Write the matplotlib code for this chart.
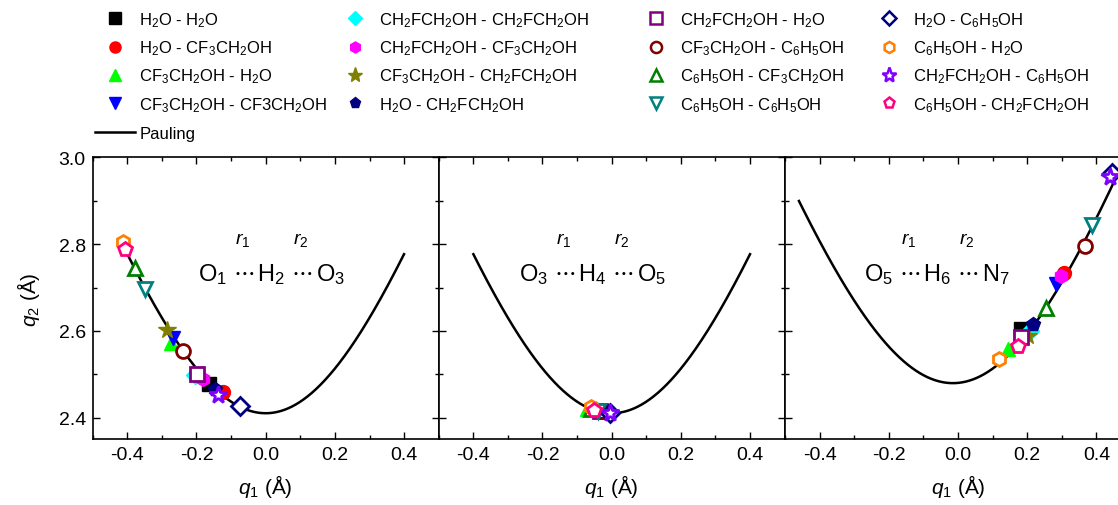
import matplotlib
matplotlib.use("Agg")
import matplotlib.pyplot as plt
from matplotlib.lines import Line2D
from matplotlib.ticker import MultipleLocator, FormatStrFormatter, FuncFormatter
import numpy as np

plt.rcParams['font.family'] = ['Liberation Sans', 'DejaVu Sans']
plt.rcParams['mathtext.fontset'] = 'custom'
plt.rcParams['mathtext.rm'] = 'Liberation Sans'
plt.rcParams['mathtext.it'] = 'Liberation Sans:italic'
plt.rcParams['mathtext.bf'] = 'Liberation Sans:bold'

# series (dimer pairs)
labels = [
    r'H$_2$O - H$_2$O',
    r'H$_2$O - CF$_3$CH$_2$OH',
    r'CF$_3$CH$_2$OH - H$_2$O',
    r'CF$_3$CH$_2$OH - CF3CH$_2$OH',
    r'CH$_2$FCH$_2$OH - CH$_2$FCH$_2$OH',
    r'CH$_2$FCH$_2$OH - CF$_3$CH$_2$OH',
    r'CF$_3$CH$_2$OH - CH$_2$FCH$_2$OH',
    r'H$_2$O - CH$_2$FCH$_2$OH',
    r'CH$_2$FCH$_2$OH - H$_2$O',
    r'CF$_3$CH$_2$OH - C$_6$H$_5$OH',
    r'C$_6$H$_5$OH - CF$_3$CH$_2$OH',
    r'C$_6$H$_5$OH - C$_6$H$_5$OH',
    r'H$_2$O - C$_6$H$_5$OH',
    r'C$_6$H$_5$OH - H$_2$O',
    r'CH$_2$FCH$_2$OH - C$_6$H$_5$OH',
    r'C$_6$H$_5$OH - CH$_2$FCH$_2$OH',
]
markers = ['s', 'o', '^', 'v', 'D', 'h', '*', 'p',
           's', 'o', '^', 'v', 'D', 'h', '*', 'p']
colors = ['#000000', '#FF0000', '#00FF00', '#0000FF', '#00FFFF', '#FF00FF', '#808000', '#000080',
          '#800080', '#800000', '#008000', '#008080', '#000080', '#FF8000', '#8000FF', '#FF0080']
filled = [True] * 8 + [False] * 8

# O1...H2...O3
q1_a = [-0.163, -0.122, -0.273, -0.267, -0.203, -0.180, -0.284, -0.146,
        -0.199, -0.239, -0.377, -0.348, -0.074, -0.413, -0.137, -0.406]
q2_a = [2.478, 2.459, 2.572, 2.583, 2.498, 2.489, 2.602, 2.466,
        2.501, 2.554, 2.744, 2.697, 2.428, 2.806, 2.452, 2.790]
# O3...H4...O5
q1_b = [-0.030, -0.020, -0.070, -0.020, -0.045, -0.045, -0.050, -0.010,
        -0.035, -0.030, -0.060, -0.040, -0.005, -0.060, -0.005, -0.050]
q2_b = [2.415, 2.413, 2.420, 2.413, 2.417, 2.417, 2.418, 2.412,
        2.416, 2.415, 2.420, 2.416, 2.412, 2.425, 2.412, 2.418]
# O5...H6...N7
q1_c = [0.183, 0.306, 0.145, 0.282, 0.207, 0.299, 0.202, 0.217,
        0.183, 0.366, 0.253, 0.386, 0.445, 0.119, 0.439, 0.173]
q2_c = [2.604, 2.733, 2.558, 2.708, 2.600, 2.727, 2.589, 2.616,
        2.585, 2.795, 2.654, 2.844, 2.964, 2.535, 2.954, 2.566]

# Pauling bond-order parameters (r0, b) in Angstrom
OH_r0, OH_b = 0.948, 0.371
NH_r0, NH_b = 0.990, 0.412


def pauling(r0a, ba, r0b, bb, lo, hi):
    p = np.linspace(1e-4, 1 - 1e-4, 4000)
    r1 = r0a - ba * np.log(p)
    r2 = r0b - bb * np.log(1 - p)
    q1 = 0.5 * (r1 - r2)
    q2 = r1 + r2
    m = (q1 >= lo) & (q1 <= hi)
    return q1[m], q2[m]


W, H = 1118, 506
fig = plt.figure(figsize=(W / 100, H / 100), dpi=100)

lefts = [92.7, 438.7, 785.0]
axw, bot, axh = 346.0, 440.4, 282.0
panels = [
    (q1_a, q2_a, pauling(OH_r0, OH_b, OH_r0, OH_b, -0.41, 0.40),
     ['O$_1$', 'H$_2$', 'O$_3$'], 198),
    (q1_b, q2_b, pauling(OH_r0, OH_b, OH_r0, OH_b, -0.40, 0.40),
     ['O$_3$', 'H$_4$', 'O$_5$'], 519),
    (q1_c, q2_c, pauling(OH_r0, OH_b, NH_r0, NH_b, -0.46, 0.55),
     ['O$_5$', 'H$_6$', 'N$_7$'], 864),
]

axes = []
for i, (xs, ys, curve, atoms, tx) in enumerate(panels):
    ax = fig.add_axes([lefts[i] / W, (H - bot) / H, axw / W, axh / H])
    axes.append(ax)
    ax.plot(curve[0], curve[1], color='black', lw=1.8, zorder=1)
    for j in range(len(labels)):
        ms = 13 if markers[j] == '*' else 10
        if markers[j] == 'D':
            ms = 9
        if filled[j]:
            ax.plot(xs[j], ys[j], ls='none', marker=markers[j], ms=ms,
                    color=colors[j], mec=colors[j], zorder=2 + j)
        else:
            ax.plot(xs[j], ys[j], ls='none', marker=markers[j], ms=ms,
                    mfc='white', mec=colors[j], mew=2, zorder=2 + j)
    ax.set_xlim(-0.5, 0.5)
    ax.set_ylim(2.35, 3.0)
    ax.xaxis.set_major_locator(MultipleLocator(0.2))
    ax.xaxis.set_minor_locator(MultipleLocator(0.1))
    ax.yaxis.set_major_locator(MultipleLocator(0.2))
    ax.yaxis.set_minor_locator(MultipleLocator(0.1))
    ax.tick_params(which='both', direction='in', top=True, right=True,
                   labelsize=14, width=1.0, pad=5)
    ax.tick_params(which='major', length=5)
    ax.tick_params(which='minor', length=3)
    ax.xaxis.set_major_formatter(FuncFormatter(
        lambda v, pos: f'{v:.1f}'.replace('-0.0', '0.0')))
    for s in ax.spines.values():
        s.set_linewidth(1.2)
    if i > 0:
        ax.tick_params(labelleft=False)
    ax.set_xlabel(r'$q_1$ (Å)', fontsize=15, labelpad=6)

axes[0].yaxis.set_major_formatter(FormatStrFormatter('%.1f'))
axes[0].set_ylabel(r'$q_2$ (Å)', fontsize=15, labelpad=12)

# O...H...O labels with r1 / r2 above the dots, laid out piece by piece
renderer = fig.canvas.get_renderer()
ty = H - 272
for i, (xs, ys, curve, atoms, tx) in enumerate(panels):
    pieces = [atoms[0], r' $\cdots$ ', atoms[1], r' $\cdots$ ', atoms[2]]
    x = tx
    dots = []
    for k, s in enumerate(pieces):
        t = fig.text(x / W, ty / H, s, fontsize=17, ha='left', va='center_baseline')
        bb = t.get_window_extent(renderer)
        if k in (1, 3):
            dots.append(x + bb.width / 2)
        x += bb.width
    for k, dx in enumerate(dots):
        fig.text(dx / W, (H - 240) / H, r'$r_{%d}$' % (k + 1), fontsize=14,
                 ha='center', va='center')

# legend, four columns plus the Pauling line below the first
fs = 12
col_x = [95, 335, 636, 869]
groups = [list(range(0, 4)), list(range(4, 8)), list(range(8, 12)), list(range(12, 16))]
leg_kw = dict(loc='upper left', frameon=False, fontsize=fs, borderpad=0,
              borderaxespad=0, handlelength=2.4, handletextpad=0.25,
              labelspacing=0.58)
for c, idx in enumerate(groups):
    handles = []
    for j in idx:
        ms = 11 if markers[j] == '*' else 8
        if markers[j] == 'D':
            ms = 7
        if filled[j]:
            h = Line2D([], [], ls='none', marker=markers[j], ms=ms, color=colors[j])
        else:
            h = Line2D([], [], ls='none', marker=markers[j], ms=ms, mfc='white',
                       mec=colors[j], mew=1.8)
        handles.append(h)
    labs = [labels[j] for j in idx]
    leg = fig.legend(handles, labs, bbox_to_anchor=(col_x[c] / W, 1 - 11 / H), **leg_kw)
fig.legend([Line2D([], [], color='black', lw=1.8)], ['Pauling'],
           bbox_to_anchor=(col_x[0] / W, 1 - 127 / H), **leg_kw)

fig.savefig('out.png', dpi=100)
